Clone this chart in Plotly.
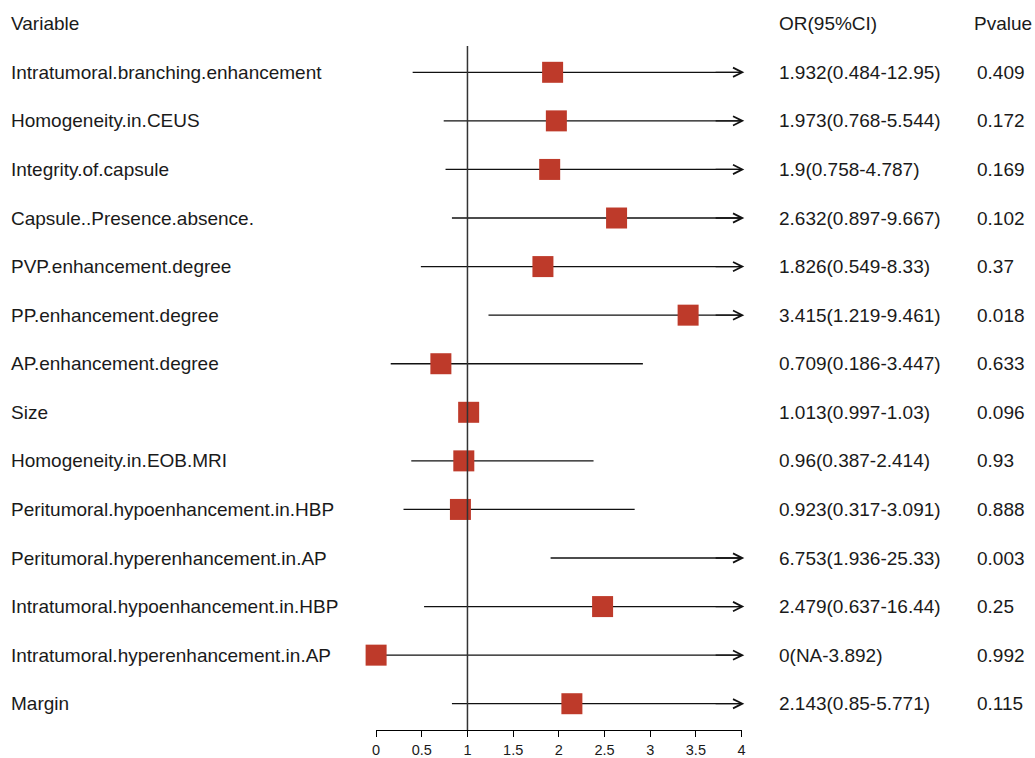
import plotly.graph_objects as go

# ---- data ----
variables = [
    "Intratumoral.branching.enhancement",
    "Homogeneity.in.CEUS",
    "Integrity.of.capsule",
    "Capsule..Presence.absence.",
    "PVP.enhancement.degree",
    "PP.enhancement.degree",
    "AP.enhancement.degree",
    "Size",
    "Homogeneity.in.EOB.MRI",
    "Peritumoral.hypoenhancement.in.HBP",
    "Peritumoral.hyperenhancement.in.AP",
    "Intratumoral.hypoenhancement.in.HBP",
    "Intratumoral.hyperenhancement.in.AP",
    "Margin",
]
or_ci_text = [
    "1.932(0.484-12.95)",
    "1.973(0.768-5.544)",
    "1.9(0.758-4.787)",
    "2.632(0.897-9.667)",
    "1.826(0.549-8.33)",
    "3.415(1.219-9.461)",
    "0.709(0.186-3.447)",
    "1.013(0.997-1.03)",
    "0.96(0.387-2.414)",
    "0.923(0.317-3.091)",
    "6.753(1.936-25.33)",
    "2.479(0.637-16.44)",
    "0(NA-3.892)",
    "2.143(0.85-5.771)",
]
p_text = ["0.409", "0.172", "0.169", "0.102", "0.37", "0.018", "0.633",
          "0.096", "0.93", "0.888", "0.003", "0.25", "0.992", "0.115"]
odds_ratio = [1.932, 1.973, 1.9, 2.632, 1.826, 3.415, 0.709,
              1.013, 0.96, 0.923, 6.753, 2.479, 0.0, 2.143]
# drawn interval ends as they appear in the picture
ci_lower = [0.40, 0.74, 0.76, 0.83, 0.49, 1.23, 0.16,
            0.997, 0.385, 0.30, 1.91, 0.525, 0.0, 0.83]
ci_upper = [12.95, 5.544, 4.787, 9.667, 8.33, 9.461, 2.92,
            1.03, 2.38, 2.83, 25.33, 16.44, 4.2, 5.771]
x_ticks = [0, 0.5, 1, 1.5, 2, 2.5, 3, 3.5, 4]
x_tick_labels = ["0", "0.5", "1", "1.5", "2", "2.5", "3", "3.5", "4"]
header = ["Variable", "OR(95%CI)", "Pvalue"]

# ---- styling ----
W, H = 1035, 758
XMIN, XMAX = 0, 4
FONT = "Liberation Sans, Arial, sans-serif"
TXT = "#1a1a1a"
SQ = "#BE3A2A"
LINE = "#111111"
n = len(variables)
rows = list(range(n))

fig = go.Figure()

# CI lines (clipped at axis max)
lx, ly = [], []
for i in rows:
    lx += [ci_lower[i], min(ci_upper[i], XMAX), None]
    ly += [i, i, None]
fig.add_trace(go.Scatter(x=lx, y=ly, mode="lines",
                         line=dict(color=LINE, width=1.3),
                         hoverinfo="skip", showlegend=False))

# point estimates
sx = [odds_ratio[i] for i in rows if odds_ratio[i] <= XMAX]
sy = [i for i in rows if odds_ratio[i] <= XMAX]
fig.add_trace(go.Scatter(x=sx, y=sy, mode="markers",
                         marker=dict(symbol="square", size=21, color=SQ,
                                     line=dict(width=0)),
                         cliponaxis=False, showlegend=False))

anns = []
# arrows for truncated intervals (head drawn just past the axis end)
for i in rows:
    if ci_upper[i] > XMAX:
        anns.append(dict(x=XMAX + 0.03, y=i, ax=XMAX - 0.3, ay=i,
                         xref="x", yref="y", axref="x", ayref="y", text="",
                         showarrow=True, arrowhead=5, arrowsize=1.4,
                         arrowwidth=1.3, arrowcolor=LINE))

col_x = [5 / W, 779 / W, 979 / W]
head_x = [5 / W, 779 / W, 976 / W]
FS = 19
# header
for cx, t in zip(head_x, header):
    anns.append(dict(x=cx, y=-1, xref="paper", yref="y", text=t,
                     showarrow=False, xanchor="left", yanchor="middle",
                     font=dict(family=FONT, size=FS, color=TXT)))
# body text
for i in rows:
    for cx, t in zip(col_x, [variables[i], or_ci_text[i], p_text[i]]):
        anns.append(dict(x=cx, y=i, xref="paper", yref="y", text=t,
                         showarrow=False, xanchor="left", yanchor="middle",
                         font=dict(family=FONT, size=FS, color=TXT)))

# reference line at OR = 1
shapes = [dict(type="line", xref="x", yref="y", x0=1, x1=1,
               y0=-0.54, y1=13.541, line=dict(color="#333333", width=1.5))]

fig.update_layout(
    width=W, height=H,
    margin=dict(l=0, r=0, t=0, b=0),
    paper_bgcolor="white", plot_bgcolor="white",
    annotations=anns, shapes=shapes,
    xaxis=dict(domain=[375 / W, 743.3 / W], range=[XMIN, XMAX],
               showgrid=False, zeroline=False, showline=True,
               linecolor="#000000", linewidth=1.2, ticks="outside",
               ticklen=6, tickwidth=1.2, tickcolor="#000000",
               tickvals=x_ticks, ticktext=x_tick_labels,
               tickfont=dict(family=FONT, size=14.5, color=TXT)),
    yaxis=dict(domain=[28 / H, 1], range=[13.541, -1.4886], visible=False,
               showgrid=False, zeroline=False),
)

fig.write_html("out.html", config={"displayModeBar": False},
               post_script="document.body.style.margin='0';"
                           "document.body.style.overflow='hidden';")
